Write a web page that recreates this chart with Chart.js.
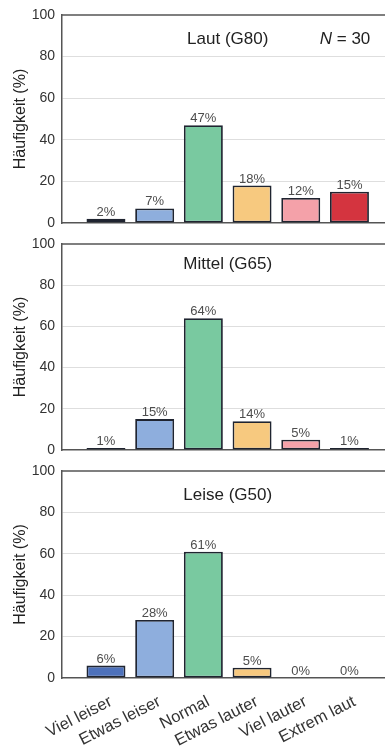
<!DOCTYPE html>
<html>
<head>
<meta charset="utf-8">
<script src="https://cdn.jsdelivr.net/npm/chart.js@4.4.1/dist/chart.umd.min.js"></script>
<style>
  html, body { margin: 0; padding: 0; background: #fff; overflow: hidden; width: 385px; height: 747px; }
  canvas { position: absolute; left: 0; background: transparent; }
</style>
</head>
<body>
<canvas id="chartLaut" width="385" height="235" style="top:0px; z-index:3"></canvas>
<canvas id="chartMittel" width="385" height="233" style="top:229px; z-index:2"></canvas>
<canvas id="chartLeise" width="385" height="291" style="top:456px; z-index:1"></canvas>
<script>
// answer categories (x axis)
const categories = ["Viel leiser", "Etwas leiser", "Normal", "Etwas lauter", "Viel lauter", "Extrem laut"];
const categoryPos = [1, 2, 3, 4, 5, 6];

// percentages per loudness condition
const lautValues = [2, 7, 47, 18, 12, 15];
const mittelValues = [1, 15, 64, 14, 5, 1];
const leiseValues = [6, 28, 61, 5, 0, 0];

const yTicks = [0, 20, 40, 60, 80, 100];
const sampleSize = 30;

const barColors = ["#4d71bb", "#8eaedd", "#79c9a0", "#f7c97f", "#f4a1a9", "#d4343f"];

const FONT = "'Liberation Sans', Arial, sans-serif";

// draws panel title, N, percent labels and the top frame line
const panelDecor = {
    id: "panelDecor",
    afterDraw(chart, args, opts) {
        const ctx = chart.ctx;
        const area = chart.chartArea;
        const xs = chart.scales.x;
        const ys = chart.scales.y;

        // top frame line
        ctx.save();
        ctx.strokeStyle = "#555";
        ctx.lineWidth = 1.5;
        ctx.beginPath();
        ctx.moveTo(area.left, area.top);
        ctx.lineTo(area.right, area.top);
        ctx.stroke();

        // percent labels over the bars
        const meta = chart.getDatasetMeta(0);
        const vals = chart.data.datasets[0].data;
        ctx.fillStyle = "#4d4d4d";
        ctx.font = "13px " + FONT;
        ctx.textAlign = "center";
        ctx.textBaseline = "alphabetic";
        meta.data.forEach(function(bar, i) {
            ctx.fillText(vals[i].y + "%", bar.x, bar.y - 3);
        });

        // panel title
        ctx.fillStyle = "#222";
        ctx.font = "17px " + FONT;
        ctx.fillText(opts.title, xs.getPixelForValue(3.5), ys.getPixelForValue(opts.titleY));

        if (opts.showN) {
            let x = xs.getPixelForValue(5.39);
            const y = ys.getPixelForValue(opts.titleY);
            ctx.textAlign = "left";
            ctx.font = "italic 17px " + FONT;
            ctx.fillText("N", x, y);
            x += ctx.measureText("N").width;
            ctx.font = "17px " + FONT;
            ctx.fillText(" = " + sampleSize, x, y);
        }
        ctx.restore();
    }
};

function makePanel(canvasId, values, title, titleY, showN, showLabels) {
    const ctx = document.getElementById(canvasId);
    return new Chart(ctx, {
        type: "bar",
        data: {
            datasets: [{
                data: values.map(function(v, i) { return { x: categoryPos[i], y: v }; }),
                backgroundColor: barColors,
                borderColor: "#1f2430",
                borderWidth: function(c) { return c.raw && c.raw.y > 0 ? 1.8 : 0; },
                borderSkipped: false,
                barPercentage: 0.8,
                categoryPercentage: 1.0
            }]
        },
        options: {
            responsive: false,
            animation: false,
            layout: { padding: { top: 15, left: 0, right: 0, bottom: 0 } },
            plugins: {
                legend: { display: false },
                tooltip: { enabled: false },
                panelDecor: { title: title, titleY: titleY, showN: showN }
            },
            scales: {
                x: {
                    type: "linear",
                    offset: false,
                    min: 0.097,
                    max: 6.73,
                    grid: { display: false, drawTicks: false, offset: false },
                    border: { display: true, color: "#555", width: 1.5 },
                    afterBuildTicks: function(scale) {
                        scale.ticks = categoryPos.map(function(v) { return { value: v }; });
                    },
                    afterFit: function(scale) {
                        // bottom panel keeps room for the rotated labels
                        scale.height = showLabels ? 69 : 12;
                        scale.paddingLeft = 0;
                        scale.paddingRight = 0;
                    },
                    ticks: {
                        display: showLabels,
                        autoSkip: false,
                        includeBounds: false,
                        maxRotation: 27,
                        minRotation: 27,
                        padding: 14,
                        labelOffset: 5,
                        color: "#333",
                        font: { family: FONT, size: 16.5 },
                        callback: function(v) { return categories[v - 1]; }
                    }
                },
                y: {
                    min: 0,
                    max: 100,
                    afterBuildTicks: function(scale) {
                        scale.ticks = yTicks.map(function(v) { return { value: v }; });
                    },
                    afterFit: function(scale) {
                        scale.width = 62;
                        scale.paddingTop = 0;
                        scale.paddingBottom = 0;
                    },
                    grid: {
                        drawTicks: false,
                        color: function(c) {
                            return (c.tick.value === 0 || c.tick.value === 100) ? "rgba(0,0,0,0)" : "#dedede";
                        },
                        lineWidth: 1
                    },
                    border: { display: true, color: "#555", width: 1.5 },
                    ticks: {
                        padding: 7,
                        color: "#333",
                        font: { family: FONT, size: 14 }
                    },
                    title: {
                        display: true,
                        text: "Häufigkeit (%)",
                        color: "#222",
                        font: { family: FONT, size: 16 },
                        padding: { top: 11, bottom: 0 }
                    }
                }
            }
        },
        plugins: [panelDecor]
    });
}

makePanel("chartLaut", lautValues, "Laut (G80)", 86, true, false);
makePanel("chartMittel", mittelValues, "Mittel (G65)", 88, false, false);
makePanel("chartLeise", leiseValues, "Leise (G50)", 86, false, true);
</script>
</body>
</html>
